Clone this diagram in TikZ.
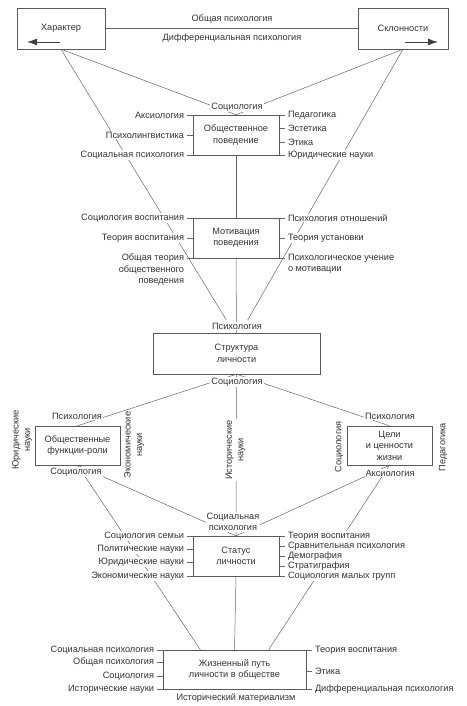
\documentclass[tikz,border=0pt]{standalone}
\usepackage{fontspec}
\setmainfont{Liberation Sans}
\usetikzlibrary{arrows.meta,backgrounds}

\begin{document}
\begin{tikzpicture}[x=1pt,y=-1pt]

	\tikzstyle{every node}=[font=\fontsize{9.2}{11.5}\selectfont, text=black!80]
	\tikzstyle{box}=[draw=black!65, rectangle, align=center, inner sep=0pt]
	\tikzstyle{lbl}=[fill=white, inner sep=1pt, outer sep=2pt, align=center]
	\tikzstyle{vlbl}=[lbl, rotate=90]
	\tikzstyle{ln}=[draw=black!60, line width=0.5pt]
	\tikzstyle{arr}=[draw=black!75, line width=0.9pt, -{Latex[length=10pt,width=7pt]}]

	\path[use as bounding box] (0,0) rectangle (466,706);

	% top row
	\node[box, minimum width=88, minimum height=41] (har) at (61,28.5) {Характер};
	\node[box, minimum width=90, minimum height=41] (skl) at (403,28.5) {Склонности};
	\node (obpsy1) at (232,19) {Общая психология};
	\node (difpsy1) at (232,38) {Дифференциальная психология};
	\coordinate (harA) at (60,42);
	\coordinate (harB) at (27,42);
	\coordinate (sklA) at (405,42);
	\coordinate (sklB) at (438,42);

	% social behaviour
	\node[lbl] (soc1) at (237,107) {Социология};
	\node[box, minimum width=86, minimum height=40] (obsh) at (236,135) {Общественное\\поведение};
	\node[lbl, anchor=east] (aks1) at (187,115) {Аксиология};
	\node[lbl, anchor=east] (psl) at (187,135) {Психолингвистика};
	\node[lbl, anchor=east] (socpsy1) at (187,155) {Социальная психология};
	\node[lbl, anchor=west] (ped1) at (285,115) {Педагогика};
	\node[lbl, anchor=west] (est) at (285,128) {Эстетика};
	\node[lbl, anchor=west] (eth1) at (285,142) {Этика};
	\node[lbl, anchor=west] (jur1) at (285,155) {Юридические науки};

	% motivation
	\node[box, minimum width=86, minimum height=40] (mot) at (236,238) {Мотивация\\поведения};
	\node[lbl, anchor=east] (socvos) at (187,218) {Социология воспитания};
	\node[lbl, anchor=east] (teorvos1) at (187,238) {Теория воспитания};
	\node[lbl, anchor=north east, align=right] (obteor) at (187,251) {Общая теория\\общественного\\поведения};
	\node[lbl, anchor=west] (psotn) at (285,218) {Психология отношений};
	\node[lbl, anchor=west] (teorust) at (285,238) {Теория установки};
	\node[lbl, anchor=north west, align=left] (psuch) at (285,251) {Психологическое учение\\о мотивации};

	% structure
	\node[lbl] (psy1) at (237,326) {Психология};
	\node[box, minimum width=167, minimum height=41] (str) at (236.5,353.5) {Структура\\личности};
	\node[lbl] (soc2) at (237,382) {Социология};

	% functions and goals
	\node[box, minimum width=85, minimum height=39] (fun) at (77.5,445.5) {Общественные\\функции-роли};
	\node[lbl] (psyL) at (77,416) {Психология};
	\node[lbl] (socL) at (76,472) {Социология};
	\node[vlbl] (jurV) at (22,440) {Юридические\\науки};
	\node[vlbl] (ekV) at (134,445) {Экономические\\науки};
	\node[vlbl] (istV) at (235.5,450) {Исторические\\науки};
	\node[box, minimum width=85, minimum height=39] (cel) at (389.5,445.5) {Цели\\и ценности\\жизни};
	\node[lbl] (psyR) at (390,416) {Психология};
	\node[lbl] (aksR) at (390,473) {Аксиология};
	\node[vlbl] (socV) at (339,447) {Социология};
	\node[vlbl] (pedV) at (443,447) {Педагогика};

	% status
	\node[lbl] (socpsy2) at (233,522) {Социальная\\психология};
	\node[box, minimum width=86, minimum height=40] (stat) at (236,556) {Статус\\личности};
	\node[lbl, anchor=east] (socsem) at (187,536) {Социология семьи};
	\node[lbl, anchor=east] (polit) at (187,549) {Политические науки};
	\node[lbl, anchor=east] (jur2) at (187,562) {Юридические науки};
	\node[lbl, anchor=east] (ekon2) at (187,576) {Экономические науки};
	\node[lbl, anchor=west] (teorvos2) at (285,536) {Теория воспитания};
	\node[lbl, anchor=west] (sravn) at (285,546) {Сравнительная психология};
	\node[lbl, anchor=west] (demo) at (285,556) {Демография};
	\node[lbl, anchor=west] (strat) at (285,566) {Стратиграфия};
	\node[lbl, anchor=west] (socmal) at (285,576) {Социология малых групп};

	% life path
	\node[box, minimum width=143, minimum height=39] (zhiz) at (234.5,669.5) {Жизненный путь\\личности в обществе};
	\node[lbl, anchor=east] (socpsy3) at (157,650) {Социальная психология};
	\node[lbl, anchor=east] (obpsy3) at (157,662) {Общая психология};
	\node[lbl, anchor=east] (soc3) at (157,676) {Социология};
	\node[lbl, anchor=east] (ist3) at (157,689) {Исторические науки};
	\node[lbl, anchor=west] (teorvos3) at (312,650) {Теория воспитания};
	\node[lbl, anchor=west] (eth3) at (312,671) {Этика};
	\node[lbl, anchor=west] (difpsy3) at (312,689) {Дифференциальная психология};
	\node[lbl] (istmat) at (236,698) {Исторический материализм};

	\begin{scope}[on background layer]
	\draw[ln] (har) -- (skl);
	\draw[arr] (harA) -- (harB);
	\draw[arr] (sklA) -- (sklB);
	\draw[ln] (har.south) -- (obsh.north);
	\draw[ln] (skl.south) -- (obsh.north);
	\draw[ln] (har.south) -- (psy1.150);
	\draw[ln] (skl.south) -- (psy1.30);
	\draw[ln] (obsh.south) -- (mot.north);
	\draw[ln] (mot.south) -- (str.north);
	\draw[ln] (str.south) -- (stat.north);
	\draw[ln] (str.south) -- (fun.north);
	\draw[ln] (str.south) -- (cel.north);
	\draw[ln] (fun.south) -- (stat.north);
	\draw[ln] (fun.south) -- (zhiz.150);
	\draw[ln] (cel.south) -- (stat.north);
	\draw[ln] (cel.south) -- (zhiz.30);
	\draw[ln] (stat.south) -- (zhiz.north);

	% side ticks
	\draw[ln] (aks1.east) -- (ped1.west);
	\draw[ln] (socpsy1.east) -- (jur1.west);
	\draw[ln] (psl.east) -- (psl.east -| obsh.west);
	\draw[ln] (est.west) -- (est.west -| obsh.east);
	\draw[ln] (eth1.west) -- (eth1.west -| obsh.east);

	\draw[ln] (socvos.east) -- (psotn.west);
	\draw[ln] (teorvos1.east) -- (teorvos1.east -| mot.west);
	\draw[ln] (teorust.west) -- (teorust.west -| mot.east);
	\draw[ln] (mot.south west -| obteor.east) -- (mot.south east -| psuch.west);

	\draw[ln] (socsem.east) -- (teorvos2.west);
	\draw[ln] (ekon2.east) -- (socmal.west);
	\foreach \n in {polit,jur2}
		\draw[ln] (\n.east) -- (\n.east -| stat.west);
	\foreach \n in {sravn,demo,strat}
		\draw[ln] (\n.west) -- (\n.west -| stat.east);

	\draw[ln] (socpsy3.east) -- (teorvos3.west);
	\draw[ln] (ist3.east) -- (difpsy3.west);
	\foreach \n in {obpsy3,soc3}
		\draw[ln] (\n.east) -- (\n.east -| zhiz.west);
	\draw[ln] (eth3.west) -- (eth3.west -| zhiz.east);
	\end{scope}

\end{tikzpicture}
\end{document}
